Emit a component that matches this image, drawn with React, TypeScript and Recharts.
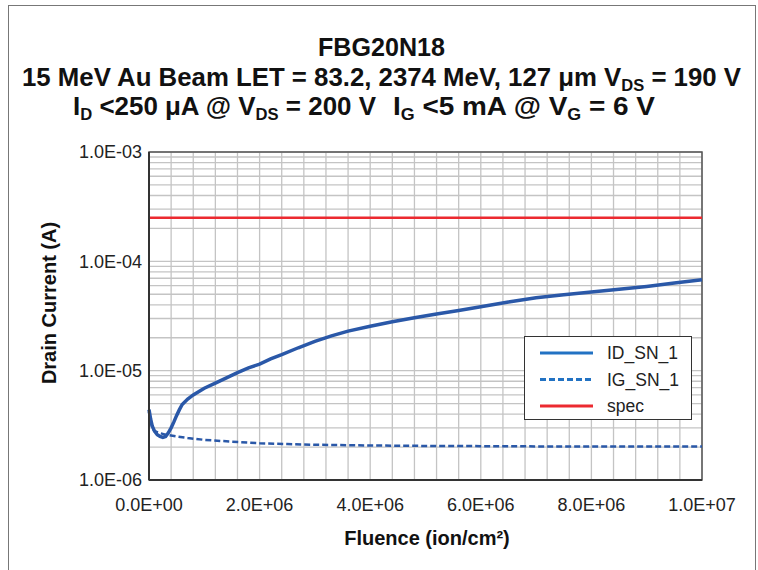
import { CartesianGrid, Line, LineChart, ReferenceArea, XAxis, YAxis } from "recharts";

// ID_SN_1 drain current vs fluence
const idFluence = [0, 3e4, 6e4, 1e5, 1.5e5, 2e5, 2.5e5, 3e5, 3.5e5, 4e5, 4.5e5, 5e5, 5.5e5, 6e5, 7e5, 8e5, 1e6, 1.2e6, 1.4e6, 1.6e6, 1.8e6, 2e6, 2.2e6, 2.4e6, 2.7e6, 3e6, 3.3e6, 3.6e6, 4e6, 4.4e6, 4.8e6, 5.2e6, 5.6e6, 6e6, 6.5e6, 7e6, 7.5e6, 8e6, 8.5e6, 9e6, 9.5e6, 1e7];
const idCurrent = [4.4e-6, 3.6e-6, 3.1e-6, 2.8e-6, 2.6e-6, 2.5e-6, 2.45e-6, 2.5e-6, 2.7e-6, 3.0e-6, 3.4e-6, 3.9e-6, 4.4e-6, 4.9e-6, 5.5e-6, 6.0e-6, 6.9e-6, 7.7e-6, 8.6e-6, 9.6e-6, 1.06e-5, 1.15e-5, 1.28e-5, 1.4e-5, 1.62e-5, 1.85e-5, 2.08e-5, 2.3e-5, 2.55e-5, 2.8e-5, 3.05e-5, 3.3e-5, 3.55e-5, 3.85e-5, 4.25e-5, 4.65e-5, 4.95e-5, 5.25e-5, 5.55e-5, 5.9e-5, 6.35e-5, 6.8e-5];

// IG_SN_1 gate current vs fluence
const igFluence = [0, 3e4, 6e4, 1e5, 2e5, 3e5, 5e5, 7e5, 1e6, 1.5e6, 2e6, 2.5e6, 3e6, 4e6, 5e6, 6e6, 7e6, 8e6, 9e6, 1e7];
const igCurrent = [4.2e-6, 3.4e-6, 3.0e-6, 2.8e-6, 2.68e-6, 2.6e-6, 2.5e-6, 2.42e-6, 2.33e-6, 2.24e-6, 2.17e-6, 2.13e-6, 2.1e-6, 2.07e-6, 2.05e-6, 2.04e-6, 2.03e-6, 2.03e-6, 2.02e-6, 2.02e-6];

// spec limit
const specFluence = [0, 1e7];
const specCurrent = [2.5e-4, 2.5e-4];

const xTicks = [0, 4e5, 8e5, 1.2e6, 1.6e6, 2e6, 2.4e6, 2.8e6, 3.2e6, 3.6e6, 4e6, 4.4e6, 4.8e6, 5.2e6, 5.6e6, 6e6, 6.4e6, 6.8e6, 7.2e6, 7.6e6, 8e6, 8.4e6, 8.8e6, 9.2e6, 9.6e6, 1e7];
const xLabelValues = [0, 2e6, 4e6, 6e6, 8e6, 1e7];
const xLabels = ["0.0E+00", "2.0E+06", "4.0E+06", "6.0E+06", "8.0E+06", "1.0E+07"];

const yTicks = [1e-6, 2e-6, 3e-6, 4e-6, 5e-6, 6e-6, 7e-6, 8e-6, 9e-6, 1e-5, 2e-5, 3e-5, 4e-5, 5e-5, 6e-5, 7e-5, 8e-5, 9e-5, 1e-4, 2e-4, 3e-4, 4e-4, 5e-4, 6e-4, 7e-4, 8e-4, 9e-4, 1e-3];
const yLabelValues = [1e-6, 1e-5, 1e-4, 1e-3];
const yLabels = ["1.0E-06", "1.0E-05", "1.0E-04", "1.0E-03"];

const seriesNames = ["ID_SN_1", "IG_SN_1", "spec"];

const toPoints = (xs: number[], ys: number[]) => xs.map((x, i) => ({ x, y: ys[i] }));
const idData = toPoints(idFluence, idCurrent);
const igData = toPoints(igFluence, igCurrent);
const specData = toPoints(specFluence, specCurrent);

const FONT = '"Liberation Sans", Arial, Helvetica, sans-serif';
const PLOT_BLUE = "#2a58a8";
const LEGEND_BLUE = "#2272c3";
const RED = "#ec2a30";

function LegendBox() {
  const styles = [
    { color: LEGEND_BLUE, dash: undefined },
    { color: LEGEND_BLUE, dash: "6 3" },
    { color: RED, dash: undefined },
  ];
  return (
    <div style={{ position: "absolute", left: 524, top: 336, width: 168, height: 84, border: "1.5px solid #333", background: "#fff", boxSizing: "border-box" }}>
      <svg width={165} height={81}>
        {seriesNames.map((name, i) => (
          <g key={name}>
            <line x1={15} x2={68} y1={16 + i * 26.5} y2={16 + i * 26.5} stroke={styles[i].color} strokeWidth={3} strokeDasharray={styles[i].dash} />
            <text x={82} y={16 + i * 26.5 + 6} fontSize={17.5} fontFamily={FONT} fill="#222">{name}</text>
          </g>
        ))}
      </svg>
    </div>
  );
}

export default function App() {
  const fmtX = (v: number) => {
    const i = xLabelValues.indexOf(v);
    return i >= 0 ? xLabels[i] : "";
  };
  const fmtY = (v: number) => {
    const i = yLabelValues.indexOf(v);
    return i >= 0 ? yLabels[i] : "";
  };
  const sub = (s: string) => (
    <>
      <tspan dy={5} fontSize={16}>{s}</tspan>
      <tspan dy={-5}>{" "}</tspan>
    </>
  );

  return (
    <div style={{ position: "absolute", left: 0, top: 0, width: 758, height: 570, background: "#fff", overflow: "hidden" }}>
      <div style={{ position: "absolute", left: 8, top: 5, width: 748, height: 580, border: "1.5px solid #777", boxSizing: "border-box" }} />
      <svg style={{ position: "absolute", left: 0, top: 0 }} width={758} height={140}>
        <g fontFamily={FONT} fontWeight="bold" fill="#111" fontSize={25}>
          <text x={318} y={56} textLength={127} lengthAdjust="spacingAndGlyphs">FBG20N18</text>
          <text x={22} y={86} textLength={719} lengthAdjust="spacingAndGlyphs">
            15 MeV Au Beam LET = 83.2, 2374 MeV, 127 μm V{sub("DS")}= 190 V
          </text>
          <text x={73} y={115} textLength={303} lengthAdjust="spacingAndGlyphs">
            I{sub("D")}&lt;250 μA @ V{sub("DS")}= 200 V
          </text>
          <text x={393} y={115} textLength={262} lengthAdjust="spacingAndGlyphs">
            I{sub("G")}&lt;5 mA @ V{sub("G")}= 6 V
          </text>
        </g>
      </svg>
      <div style={{ position: "absolute", left: 0, top: 0 }}>
        <LineChart width={758} height={570} margin={{ top: 152, right: 56, bottom: 60, left: 69 }}>
          <CartesianGrid stroke="#c4c4c4" strokeWidth={1.3} />
          <XAxis
            type="number"
            dataKey="x"
            domain={[0, 1e7]}
            ticks={xTicks}
            interval={0}
            tickFormatter={fmtX}
            tickLine={false}
            tickSize={0}
            tickMargin={18}
            height={30}
            axisLine={{ stroke: "#333", strokeWidth: 2 }}
            tick={{ fontSize: 18, fontFamily: FONT, fill: "#222" }}
          />
          <YAxis
            type="number"
            dataKey="y"
            scale="log"
            domain={[1e-6, 1e-3]}
            allowDataOverflow
            ticks={yTicks}
            interval={0}
            tickFormatter={fmtY}
            tickLine={false}
            tickSize={0}
            tickMargin={7}
            width={80}
            axisLine={{ stroke: "#333", strokeWidth: 2 }}
            tick={{ fontSize: 18, fontFamily: FONT, fill: "#222" }}
          />
          <ReferenceArea x1={0} x2={1e7} y1={1e-6} y2={1e-3} fill="none" stroke="#555" strokeWidth={1.5} ifOverflow="visible" />
          <Line data={specData} dataKey="y" name="spec" stroke={RED} strokeWidth={2.5} dot={false} isAnimationActive={false} />
          <Line data={igData} dataKey="y" name="IG_SN_1" stroke={PLOT_BLUE} strokeWidth={2.5} strokeDasharray="6 3" dot={false} isAnimationActive={false} />
          <Line data={idData} dataKey="y" name="ID_SN_1" stroke={PLOT_BLUE} strokeWidth={3.5} dot={false} isAnimationActive={false} />
        </LineChart>
      </div>
      <LegendBox />
      <svg style={{ position: "absolute", left: 0, top: 0, pointerEvents: "none" }} width={758} height={570}>
        <g fontFamily={FONT} fontWeight="bold" fill="#111" fontSize={20}>
          <text x={427} y={545} textAnchor="middle">Fluence (ion/cm²)</text>
          <text transform="translate(56,303) rotate(-90)" textAnchor="middle">Drain Current (A)</text>
        </g>
      </svg>
    </div>
  );
}
